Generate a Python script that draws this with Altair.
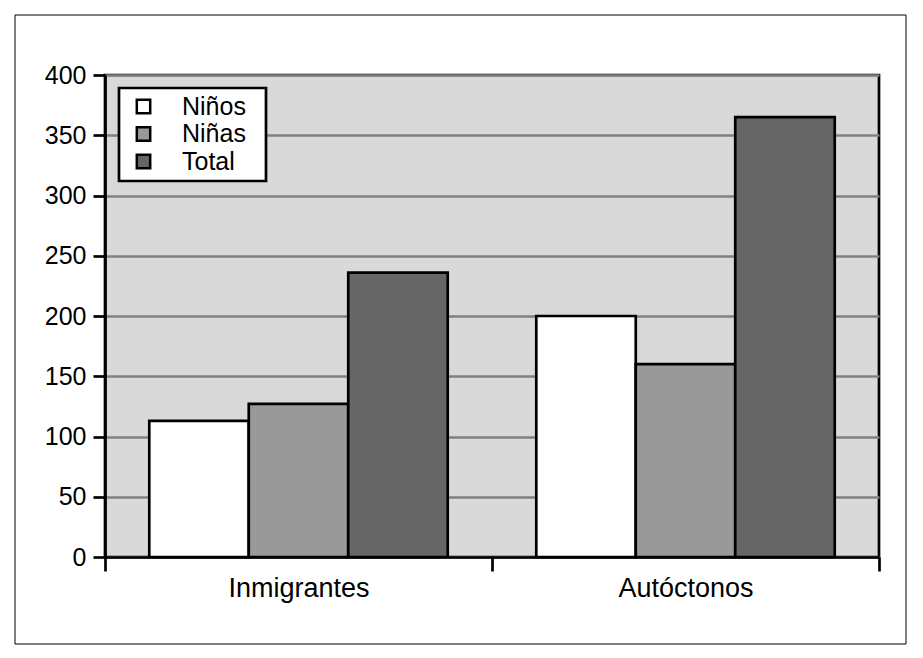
import altair as alt
import pandas as pd

grupos = ["Inmigrantes", "Autóctonos"]
series = ["Niños", "Niñas", "Total"]
ninos = [113, 200]
ninas = [127, 160]
total = [236, 365]
colores = ["#ffffff", "#999999", "#666666"]
y_ticks = [0, 50, 100, 150, 200, 250, 300, 350, 400]

rows = []
for i, g in enumerate(grupos):
    for s, vals in zip(series, [ninos, ninas, total]):
        rows.append({"Grupo": g, "Serie": s, "Valor": vals[i]})
df = pd.DataFrame(rows)

FONT = "Liberation Sans"

bars = alt.Chart(df).mark_bar(stroke="black", strokeWidth=2.7).encode(
    x=alt.X(
        "Grupo:N", sort=grupos, title=None,
        scale=alt.Scale(paddingInner=0, paddingOuter=0),
        axis=alt.Axis(labelAngle=0, tickBand="extent", tickSize=14, labelPadding=4,
                      labelFontSize=27, labelColor="black", domainColor="black",
                      domainWidth=2.7, tickColor="black", tickWidth=2.7, grid=False),
    ),
    xOffset=alt.XOffset("Serie:N", sort=series,
                        scale=alt.Scale(paddingInner=0, paddingOuter=0.445)),
    y=alt.Y(
        "Valor:Q", title=None, scale=alt.Scale(domain=[0, 400], nice=False),
        axis=alt.Axis(values=y_ticks, tickSize=12, labelPadding=7, labelFontSize=25,
                      labelColor="black", domainColor="black", domainWidth=2.7,
                      tickColor="black", tickWidth=2.7, gridColor="#808080",
                      gridWidth=2.7, grid=True),
    ),
    color=alt.Color(
        "Serie:N", sort=series,
        scale=alt.Scale(domain=series, range=colores),
        legend=alt.Legend(
            title="ab", titleOrient="right", titleOpacity=0, titleFontSize=10,
            titlePadding=2, titleBaseline="top",
            orient="none", legendX=14, legendY=13,
            fillColor="white", strokeColor="black",
            padding=6, symbolOffset=6, symbolType="square", symbolSize=180,
            symbolStrokeColor="black", symbolStrokeWidth=2.5,
            labelFontSize=25, labelColor="black", labelOffset=26, rowPadding=1.5,
        ),
    ),
)

frame = alt.Chart(alt.Data(values=[{}])).mark_rect(
    fill="transparent", stroke="black", strokeWidth=1
).encode(
    x=alt.value(-90), x2=alt.value(801), y=alt.value(-60), y2=alt.value(569)
)

chart = alt.layer(bars, frame).properties(
    width=774, height=482,
    autosize=alt.AutoSizeParams(type="none"),
    padding={"left": 97, "top": 67, "right": 30, "bottom": 95},
).configure(font=FONT).configure_view(
    fill="#d9d9d9", stroke="black", strokeWidth=2.7
).configure_legend(strokeWidth=2.7)

chart.save("out.html", embed_options={"renderer": "svg", "actions": False})
